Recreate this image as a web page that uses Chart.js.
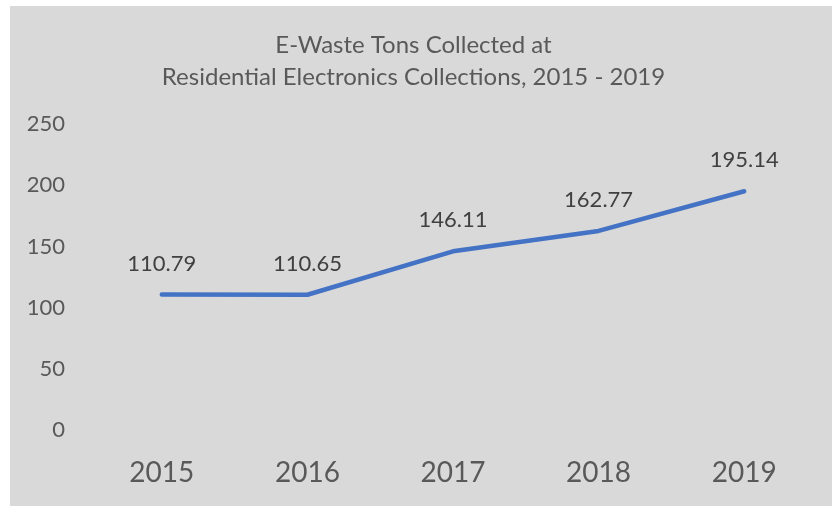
<!DOCTYPE html>
<html>
<head>
<meta charset="utf-8">
<script src="https://cdn.jsdelivr.net/npm/chart.js@4"></script>
<style>
  html, body { margin: 0; padding: 0; background: #fff; }
  #wrap { position: absolute; left: 10px; top: 6px; width: 822px; height: 500px; background: #d9d9d9; }
</style>
</head>
<body>
<div id="wrap"><canvas id="chart" width="822" height="500"></canvas></div>
<script>
const years = ['2015', '2016', '2017', '2018', '2019'];
const tons = [110.79, 110.65, 146.11, 162.77, 195.14];
const titleLines = ['E-Waste Tons Collected at', 'Residential Electronics Collections, 2015 - 2019'];

const FONT = 'Lato, "Open Sans", sans-serif';
const TEXT = '#595959';

// data labels above each point
const valueLabels = {
  id: 'valueLabels',
  afterDatasetsDraw(chart) {
    const { ctx } = chart;
    const meta = chart.getDatasetMeta(0);
    ctx.save();
    ctx.font = '22px ' + FONT;
    ctx.fillStyle = '#404040';
    ctx.textAlign = 'center';
    ctx.textBaseline = 'middle';
    meta.data.forEach((pt, i) => {
      ctx.fillText(tons[i].toFixed(2), pt.x, pt.y - 31);
    });
    ctx.restore();
  }
};

new Chart(document.getElementById('chart'), {
  type: 'line',
  data: {
    labels: years,
    datasets: [{
      data: tons,
      borderColor: '#4472c4',
      borderWidth: 4.5,
      borderCapStyle: 'round',
      borderJoinStyle: 'round',
      pointRadius: 0,
      tension: 0,
      fill: false,
    }],
  },
  options: {
    responsive: false,
    animation: false,
    layout: { padding: { left: 0, right: 15, top: 0, bottom: -2 } },
    plugins: {
      legend: { display: false },
      tooltip: { enabled: false },
      title: {
        display: true,
        text: titleLines,
        color: TEXT,
        font: { family: FONT, size: 24, weight: 'normal', lineHeight: 1.333 },
        padding: { top: 23, bottom: 31 },
      },
    },
    scales: {
      x: {
        offset: true,
        grid: { display: false },
        border: { display: false },
        ticks: { color: TEXT, font: { family: FONT, size: 28 }, padding: 18 },
      },
      y: {
        min: 0,
        max: 250,
        grid: { display: false },
        border: { display: false },
        ticks: { stepSize: 50, color: TEXT, font: { family: FONT, size: 22 }, padding: 16 },
        afterFit(scale) { scale.width = 79; },
      },
    },
  },
  plugins: [valueLabels],
});
</script>
</body>
</html>
